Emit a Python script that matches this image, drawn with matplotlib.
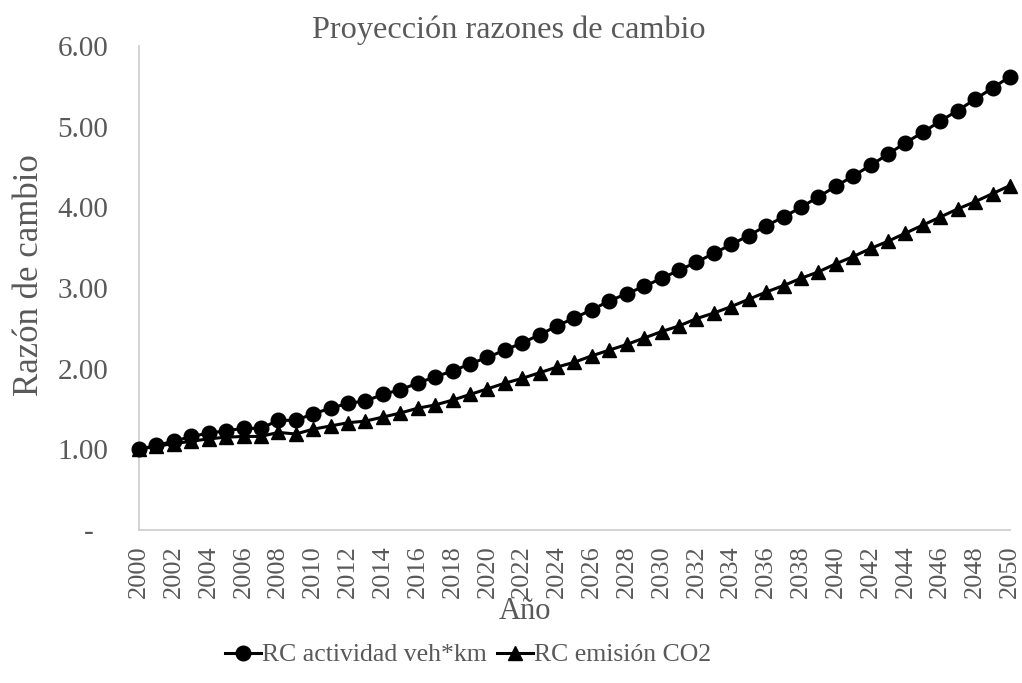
import matplotlib
matplotlib.use("Agg")
import matplotlib.pyplot as plt
from matplotlib.ticker import FuncFormatter, MultipleLocator

years = list(range(2000, 2051))
rc_actividad = [1.00, 1.05, 1.10, 1.16, 1.20, 1.23, 1.26, 1.26, 1.36, 1.36,
                1.44, 1.51, 1.57, 1.60, 1.68, 1.74, 1.82, 1.90, 1.97, 2.06,
                2.14, 2.23, 2.32, 2.42, 2.53, 2.63, 2.73, 2.84, 2.93, 3.02,
                3.12, 3.22, 3.32, 3.43, 3.54, 3.65, 3.77, 3.88, 4.00, 4.13,
                4.26, 4.39, 4.52, 4.66, 4.80, 4.93, 5.07, 5.20, 5.34, 5.48,
                5.62]
rc_emision = [1.00, 1.04, 1.07, 1.10, 1.13, 1.15, 1.16, 1.16, 1.21, 1.19,
              1.25, 1.29, 1.33, 1.35, 1.40, 1.45, 1.51, 1.55, 1.61, 1.68,
              1.75, 1.82, 1.88, 1.95, 2.02, 2.08, 2.16, 2.23, 2.30, 2.38,
              2.46, 2.53, 2.62, 2.69, 2.77, 2.86, 2.95, 3.03, 3.12, 3.20,
              3.30, 3.39, 3.49, 3.58, 3.68, 3.78, 3.88, 3.98, 4.07, 4.17,
              4.27]
tick_years = list(range(2000, 2051, 2))
series_names = ["RC actividad veh*km", "RC emisión CO2"]
title = "Proyección razones de cambio"
xlabel = "Año"
ylabel = "Razón de cambio"

plt.rcParams['font.family'] = ['Liberation Serif', 'DejaVu Serif']
gray = '#595959'

fig = plt.figure(figsize=(10.22, 6.83), dpi=100)
W, H = 1022, 683
ax_left, ax_right, ax_top, ax_bottom = 139, 1010, 46, 530
ax = fig.add_axes([ax_left / W, 1 - ax_bottom / H, (ax_right - ax_left) / W, (ax_bottom - ax_top) / H])

ax.plot(years, rc_actividad, color='black', lw=2.2, marker='o', ms=10.5,
        label=series_names[0], clip_on=False, zorder=3)
ax.plot(years, rc_emision, color='black', lw=2.2, marker='^', ms=10.5,
        label=series_names[1], clip_on=False, zorder=3)

ax.set_xlim(2000, 2050)
ax.set_ylim(0, 6)
ax.yaxis.set_major_locator(MultipleLocator(1))
ax.yaxis.set_major_formatter(FuncFormatter(lambda v, p: "-  " if abs(v) < 1e-9 else f"{v:.2f}"))
ax.set_xticks(tick_years)
ax.set_xticklabels([str(y) for y in tick_years], rotation=90)

ax.tick_params(axis='y', length=0, pad=22, labelsize=21, labelcolor=gray)
ax.tick_params(axis='x', length=0, pad=11, labelsize=19, labelcolor=gray)

for s in ['top', 'right']:
    ax.spines[s].set_visible(False)
for s in ['left', 'bottom']:
    ax.spines[s].set_color('#d0d0d0')
    ax.spines[s].set_linewidth(1.3)

fig.text(509 / W, 1 - 30 / H, title, ha='center', va='center', fontsize=23.2, color=gray)
fig.text(525 / W, 1 - 597 / H, xlabel, ha='center', va='top', fontsize=22, color=gray)
fig.text(30 / W, 1 - 275 / H, ylabel, ha='center', va='center', rotation=90, fontsize=25, color=gray)

leg = fig.legend(loc='center', bbox_to_anchor=(468 / W, 1 - 655 / H), ncol=2, frameon=False,
                 fontsize=18.5, handlelength=1.4, handletextpad=0.05, columnspacing=0.4,
                 borderpad=0)
for t in leg.get_texts():
    t.set_color(gray)

fig.savefig('out.png', dpi=100)
